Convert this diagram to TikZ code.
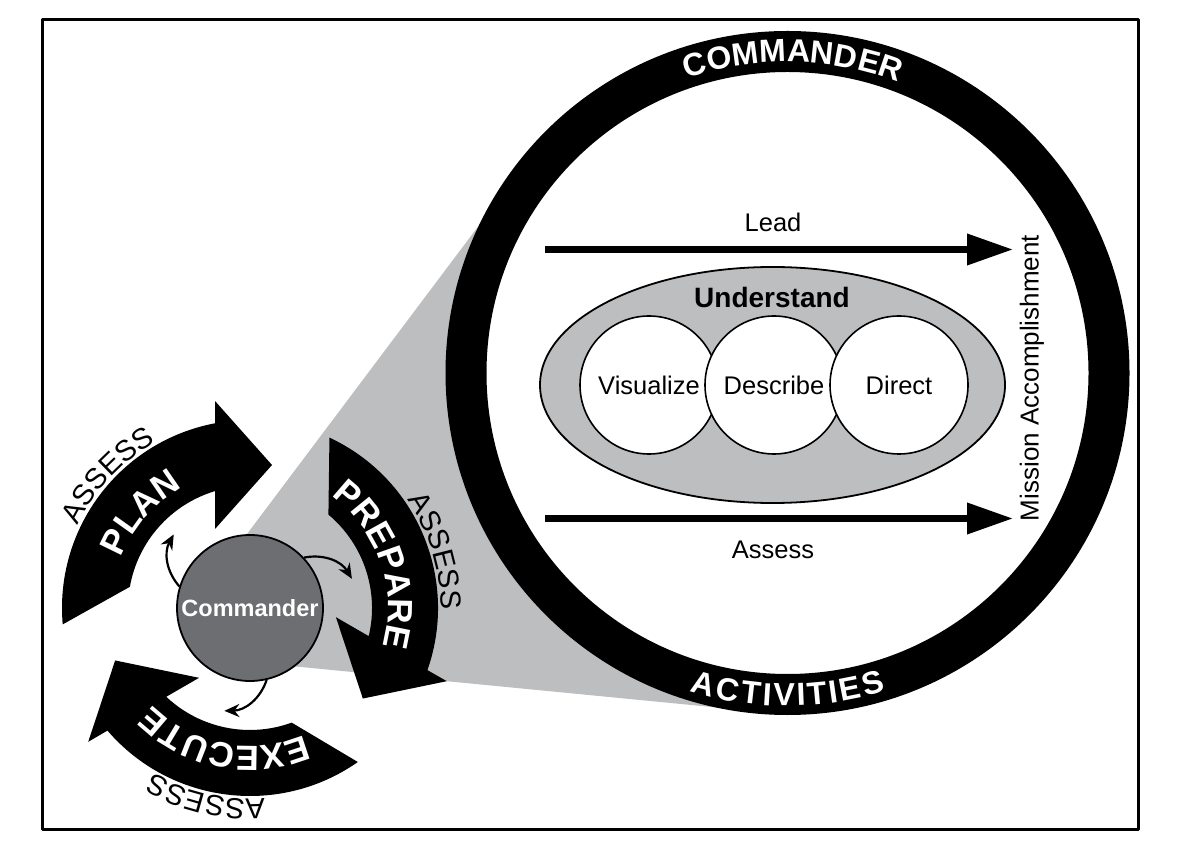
\documentclass[tikz,border=0pt]{standalone}
\usepackage{fontspec}
\setmainfont{Liberation Sans}
\usetikzlibrary{arrows.meta,decorations.text,shapes.geometric,calc}
\definecolor{conegray}{HTML}{BDBEC0}
\definecolor{cmdgray}{HTML}{6D6E72}
\newcommand\cyclefont{\fontsize{35}{35}\selectfont\bfseries}
\newcommand\assessfont{\fontsize{29}{29}\selectfont}
\begin{document}
\begin{tikzpicture}[x=1pt,y=1pt,line join=round,>={Stealth[length=15pt,width=13pt]},
        font=\fontsize{25.5}{28}\selectfont,
        bigarrow/.style={line width=7pt,-{Triangle[length=46pt,width=30pt]}},
        smallarrow/.style={line width=2.2pt,->},
        bubble/.style={circle,draw,line width=1.6pt,fill=white,minimum size=138pt,inner sep=0pt},
        ringletter/.style={text=white,inner sep=0pt,font=\fontsize{32}{32}\selectfont\bfseries}]
    \pgfmathsetmacro\R{321.5}
    \useasboundingbox (0,0) rectangle (1188,860);
    \draw[line width=3pt] (42,31) rectangle (1138,840);
    \fill[conegray] (235,310) -- (495,656) -- (787.5,487) -- (722,152) -- (260,197) -- cycle;
    \coordinate (O) at (787.5,487);
    \draw[fill=white,line width=41pt] (O) circle (\R);
    \foreach \l/\a [count=\i] in {C/106.8,O/102.3,M/97.6,M/92.7,A/88.0,N/83.8,D/79.5,E/75.3,R/71.2}
        \node[ringletter,rotate=\a-90] (top\i) at ($(O)+(\a:322)$) {\l};
    \foreach \l/\a [count=\i] in {A/254.8,C/259.3,T/263.5,I/266.4,V/269.4,I/272.4,T/275.3,I/278.1,E/281.2,S/285.4}
        \node[ringletter,rotate=\a+90] (bot\i) at ($(O)+(\a:322)$) {\l};
    \node[ellipse,draw,line width=1.8pt,fill=conegray,minimum width=465pt,minimum height=236pt] (understand) at (772.5,475) {};
    \node[font=\fontsize{28}{28}\selectfont\bfseries] (undlabel) at (772,563) {Understand};
    \node[bubble] (vis) at (649,475) {Visualize};
    \node[bubble] (des) at (774,475) {Describe};
    \node[bubble] (dir) at (899,475) {Direct};
    \coordinate (leadL) at (545,610.5);
    \coordinate (leadR) at (1013,610.5);
    \coordinate (assL) at (545,341.5);
    \coordinate (assR) at (1013,341.5);
    \draw[bigarrow] (leadL) -- (leadR);
    \draw[bigarrow] (assL) -- (assR);
    \node (lead) at (773,638) {Lead};
    \node (assess) at (773,310) {Assess};
    \node[rotate=90,font=\fontsize{26}{28}\selectfont] (mission) at (1032,482) {Mission Accomplishment};
    % plan - prepare - execute
    \node[circle,draw,line width=1.8pt,fill=cmdgray,minimum size=146pt,inner sep=0pt,text=white,
        font=\fontsize{23.5}{24}\selectfont\bfseries] (cmd) at (250,252) {Commander};
    \foreach \r/\word/\sa in {0/{|\cyclefont|PLAN}/163,-120/{|\cyclefont|PREPARE}/43,-240/{|\cyclefont|EXECUTE}/283}{
        \begin{scope}[shift={(cmd.center)},rotate=\r]
            \fill (170:122) -- (185:188) arc[start angle=185,end angle=100.7,radius=188]
                -- (-35,207) -- (22,143) -- (-35,79) -- (-35,116.9)
                arc[start angle=106.7,end angle=170,radius=122] -- cycle;
            \path[decorate,decoration={text along path,text align=center,text color=white,text/.expand once=\word}]
                (184:138) arc[start angle=184,end angle=94,radius=138];
            \path[decorate,decoration={text along path,text align=center,text={|\assessfont|ASSESS}}]
                (177:191) arc[start angle=177,end angle=97,radius=191];
            \draw[smallarrow] (cmd.\sa) to[bend left=35] (136:106);
        \end{scope}
    }
\end{tikzpicture}
\end{document}
